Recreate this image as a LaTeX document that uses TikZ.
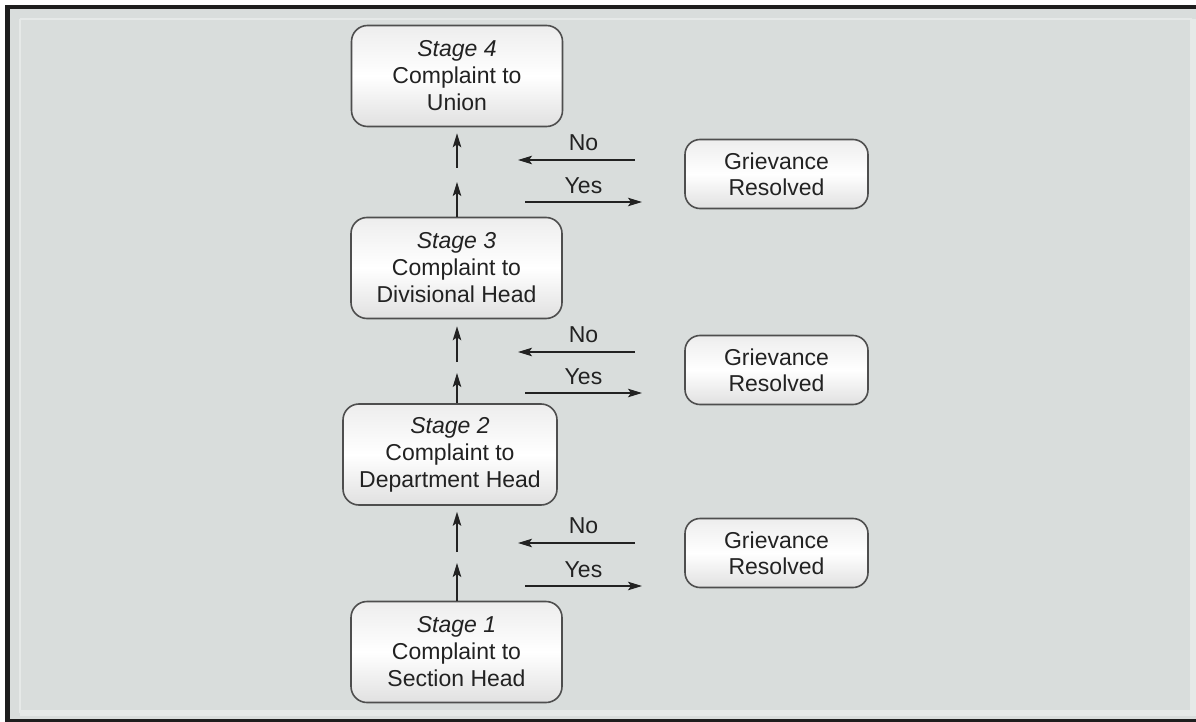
\documentclass[tikz,border=0pt]{standalone}
\usepackage{fontspec}
\setmainfont{Liberation Sans}
\usetikzlibrary{arrows.meta}
\definecolor{panel}{HTML}{D9DDDC}
\definecolor{ink}{HTML}{222222}
\definecolor{rim}{HTML}{1E1E1E}
\tikzset{
  stagebox/.style={draw=ink!80, line width=1.6pt, rounded corners=16pt,
    top color=gray!14, bottom color=gray!24, middle color=white,
    minimum width=211pt, minimum height=101pt, align=center, text=ink,
    font=\fontsize{23}{27}\selectfont},
  resbox/.style={stagebox, minimum width=183pt, minimum height=69pt,
    rounded corners=15pt, font=\fontsize{23}{26}\selectfont},
  flow/.style={draw=ink, line width=1.6pt,
    -{Stealth[length=14pt,width=8.5pt,inset=3pt]}},
  lbl/.style={text=ink, inner sep=0pt, font=\fontsize{23}{27}\selectfont}
}
\begin{document}
\begin{tikzpicture}[x=1pt,y=-1pt]
  \useasboundingbox (0,0) rectangle (1196,722);
  \fill[white] (0,0) rectangle (1196,722);
  \fill[panel] (5,5) rectangle (1196,722);
  \draw[white!35!panel, line width=2.5pt] (20,19) -- (1192,19);
  \draw[white!35!panel, line width=2.5pt] (20,19) -- (20,713);
  \draw[white!35!panel, line width=6pt] (20,713) -- (1193,713) -- (1193,19);
  \fill[rim] (5,5) rectangle (1196,9.5);
  \fill[rim] (5,5) rectangle (10,722);
  \fill[rim] (5,719) rectangle (1196,722);

  \node[stagebox] (s4) at (457,76) {\textit{Stage 4}\\Complaint to\\Union};
  \node[stagebox] (s3) at (456.5,268) {\textit{Stage 3}\\Complaint to\\Divisional Head};
  \node[stagebox, minimum width=214pt] (s2) at (450,454.5) {\textit{Stage 2}\\Complaint to\\Department Head};
  \node[stagebox] (s1) at (456.5,652) {\textit{Stage 1}\\Complaint to\\Section Head};

  \node[resbox] (g3) at (776.5,174) {Grievance\\Resolved};
  \node[resbox] (g2) at (776.5,370) {Grievance\\Resolved};
  \node[resbox] (g1) at (776.5,553) {Grievance\\Resolved};

  \coordinate (j1) at (457,563);
  \coordinate (k1) at (457,552);
  \coordinate (j2) at (457,373);
  \coordinate (k2) at (457,362);
  \coordinate (j3) at (457,182);
  \coordinate (k3) at (457,168);

  \coordinate (no1a) at (635,543);
  \coordinate (no1b) at (518,543);
  \coordinate (yes1a) at (525,586);
  \coordinate (yes1b) at (642,586);
  \coordinate (no2a) at (635,352);
  \coordinate (no2b) at (518,352);
  \coordinate (yes2a) at (525,393);
  \coordinate (yes2b) at (642,393);
  \coordinate (no3a) at (635,160);
  \coordinate (no3b) at (518,160);
  \coordinate (yes3a) at (525,202);
  \coordinate (yes3b) at (642,202);

  \begin{scope}[flow]
    \draw (s1.north -| j1) to (j1);
    \draw[shorten >=6pt] (k1) to (s2.south -| k1);
    \draw (s2.north -| j2) to (j2);
    \draw[shorten >=7pt] (k2) to (s3.south -| k2);
    \draw (s3.north -| j3) to (j3);
    \draw[shorten >=6pt] (k3) to (s4.south -| k3);

    \draw (no1a) to node[lbl, above=8pt, pos=0.44] {No} (no1b);
    \draw (yes1a) to node[lbl, above=7pt] {Yes} (yes1b);
    \draw (no2a) to node[lbl, above=8pt, pos=0.44] {No} (no2b);
    \draw (yes2a) to node[lbl, above=7pt] {Yes} (yes2b);
    \draw (no3a) to node[lbl, above=8pt, pos=0.44] {No} (no3b);
    \draw (yes3a) to node[lbl, above=7pt] {Yes} (yes3b);
  \end{scope}
\end{tikzpicture}
\end{document}
